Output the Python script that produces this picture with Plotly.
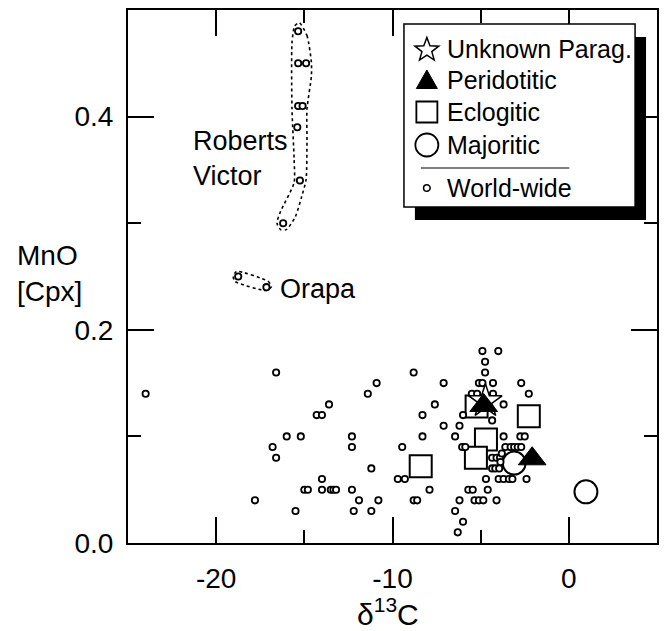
import math
import plotly.graph_objects as go

FONT = "Liberation Sans, Arial, sans-serif"

# ---- data (delta13C, MnO) ----
ww_x = [-24.0, -16.6, -10.9, -11.4, -13.6, -14.3, -14.0, -16.0, -15.2, -12.3,
        -16.8, -12.3, -16.6, -11.2, -14.0, -15.0, -14.8, -14.0, -13.5, -13.35,
        -13.2, -12.3, -17.8, -11.9, -10.8, -15.5, -12.2, -11.2,
        -4.9, -4.0, -4.75, -4.75, -8.8, -7.1, -5.1, -4.9, -4.3, -2.7,
        -5.5, -5.2, -4.3, -2.27, -7.6, -3.7, -8.3, -6.0, -4.35, -7.1, -6.2,
        -8.3, -6.45, -3.7, -2.75, -2.5,
        -9.45, -6.05, -5.87, -3.6, -3.3, -3.1, -2.9, -2.7,
        -4.35, -4.1, -3.9, -3.8, -4.35, -4.17, -3.95, -3.88,
        -9.7, -9.3, -4.7, -3.98, -3.7, -3.4, -3.2, -2.4,
        -7.9, -5.7, -5.45, -4.6,
        -8.8, -8.6, -6.2, -5.35, -5.1, -4.85, -4.1,
        -6.45, -6.0, -6.3]
ww_y = [0.14, 0.16, 0.15, 0.14, 0.13, 0.12, 0.12, 0.10, 0.10, 0.10,
        0.09, 0.09, 0.08, 0.07, 0.06, 0.05, 0.05, 0.05, 0.05, 0.05,
        0.05, 0.05, 0.04, 0.04, 0.04, 0.03, 0.03, 0.03,
        0.18, 0.18, 0.17, 0.16, 0.16, 0.15, 0.15, 0.15, 0.15, 0.15,
        0.14, 0.14, 0.14, 0.14, 0.13, 0.13, 0.12, 0.12, 0.115, 0.11, 0.11,
        0.10, 0.10, 0.10, 0.10, 0.10,
        0.09, 0.09, 0.09, 0.09, 0.09, 0.09, 0.09, 0.09,
        0.08, 0.08, 0.08, 0.084, 0.07, 0.07, 0.07, 0.076,
        0.06, 0.06, 0.06, 0.06, 0.06, 0.06, 0.06, 0.06,
        0.05, 0.05, 0.05, 0.05,
        0.04, 0.04, 0.04, 0.04, 0.04, 0.04, 0.04,
        0.03, 0.02, 0.01]

rv_x = [-15.35, -15.35, -14.9, -15.35, -15.1, -15.4, -15.25, -16.2]
rv_y = [0.48, 0.45, 0.45, 0.41, 0.41, 0.39, 0.34, 0.30]
orapa_x = [-18.75, -17.15]
orapa_y = [0.25, 0.24]

eclog_x = [-8.4, -2.27, -4.7, -5.27, -5.23]
eclog_y = [0.072, 0.119, 0.097, 0.080, 0.128]
perid_x = [-4.83, -2.08]
perid_y = [0.129, 0.079]
unk_x = [-4.73]
unk_y = [0.133]
major_x = [-3.1, 0.97]
major_y = [0.075, 0.048]

legend_labels = ["Unknown Parag.", "Peridotitic", "Eclogitic", "Majoritic", "World-wide"]

# hand-drawn dotted enclosures (annotation outlines)
rv_outline_x = [-15.28, -14.85, -14.6, -14.6, -14.85, -14.85, -14.9, -15.15, -15.51,
                -16.02, -16.35, -16.55, -16.35, -15.58, -15.58, -15.7, -15.7, -15.55, -15.28]
rv_outline_y = [0.488, 0.476, 0.451, 0.438, 0.407, 0.376, 0.341, 0.325, 0.306,
                0.294, 0.294, 0.300, 0.311, 0.338, 0.360, 0.407, 0.469, 0.485, 0.488]
or_outline_x = [-18.85, -17.05, -16.86, -17.14, -18.94, -19.03, -18.85]
or_outline_y = [0.2548, 0.2454, 0.2407, 0.2369, 0.2454, 0.2500, 0.2548]

# ---- layout geometry (pixels) ----
W, H = 664, 631
ML, MR, MT, MB = 128, 5, 10, 88
PW, PH = W - ML - MR, H - MT - MB


def px(xp):
    return (xp - ML) / PW


def py(yp):
    return (H - MB - yp) / PH


fig = go.Figure()

for ox, oy in [(rv_outline_x, rv_outline_y), (or_outline_x, or_outline_y)]:
    fig.add_trace(go.Scatter(x=ox, y=oy, mode="lines", showlegend=False, hoverinfo="skip",
                             line=dict(color="black", width=1.6, dash="dot", shape="spline", smoothing=0.6)))

fig.add_trace(go.Scatter(x=eclog_x, y=eclog_y, mode="markers", name="Eclogitic",
                         marker=dict(symbol="square", size=22, color="white",
                                     line=dict(color="black", width=2))))
fig.add_trace(go.Scatter(x=major_x, y=major_y, mode="markers", name="Majoritic",
                         marker=dict(symbol="circle", size=23, color="white",
                                     line=dict(color="black", width=2))))

ww_marker = dict(symbol="circle", size=6.3, color="white", line=dict(color="black", width=1.8))
fig.add_trace(go.Scatter(x=ww_x, y=ww_y, mode="markers", name="World-wide", marker=ww_marker))
fig.add_trace(go.Scatter(x=rv_x, y=rv_y, mode="markers", name="Roberts Victor", marker=ww_marker))
fig.add_trace(go.Scatter(x=orapa_x, y=orapa_y, mode="markers", name="Orapa", marker=ww_marker))

fig.add_trace(go.Scatter(x=unk_x, y=unk_y, mode="markers", name="Unknown Parag.",
                         marker=dict(symbol="star", size=25, color="white",
                                     line=dict(color="black", width=1.5))))
fig.add_trace(go.Scatter(x=perid_x, y=perid_y, mode="markers", name="Peridotitic",
                         marker=dict(symbol="triangle-up", size=24, color="black",
                                     line=dict(color="black", width=1))))

axis_common = dict(showline=True, linecolor="black", linewidth=2, mirror="allticks",
                   ticks="inside", ticklen=26, tickwidth=1.5, tickcolor="black",
                   showgrid=False, zeroline=False,
                   tickfont=dict(family=FONT, size=28, color="black"))

fig.update_xaxes(range=[-25, 5], tickvals=[-20, -10, 0], ticktext=["-20", "-10", "0"],
                 minor=dict(dtick=5, tick0=0, ticks="inside", ticklen=13, tickwidth=1.5,
                            tickcolor="black", showgrid=False),
                 ticklabelstandoff=9, **axis_common)
fig.update_yaxes(range=[0, 0.5], tickvals=[0, 0.2, 0.4], ticktext=["0.0", "0.2", "0.4"],
                 minor=dict(dtick=0.1, tick0=0, ticks="inside", ticklen=13, tickwidth=1.5,
                            tickcolor="black", showgrid=False),
                 ticklabelstandoff=7, **axis_common)

# ---- custom legend box with drop shadow ----
box_l, box_r, box_t, box_b = 405, 637, 24, 207
shadow_dx, shadow_dy = 11, 13
fig.add_shape(type="rect", xref="paper", yref="paper",
              x0=px(box_l + shadow_dx), x1=px(box_r + shadow_dx),
              y0=py(box_b + shadow_dy), y1=py(box_t + shadow_dy),
              fillcolor="black", line=dict(width=0), layer="above")
fig.add_shape(type="rect", xref="paper", yref="paper",
              x0=px(box_l), x1=px(box_r), y0=py(box_b), y1=py(box_t),
              fillcolor="white", line=dict(color="black", width=1.5), layer="above")
fig.add_shape(type="line", xref="paper", yref="paper", x0=px(422), x1=px(571),
              y0=py(168), y1=py(168), line=dict(color="black", width=1.2), layer="above")

key_x = 428
row_y = [49, 80, 112, 145, 188]
text_x = 446


def pixel_shape(path, cx, cy, fill, lw):
    return dict(type="path", xref="paper", yref="paper", xsizemode="pixel", ysizemode="pixel",
                xanchor=px(cx), yanchor=py(cy), path=path, fillcolor=fill,
                line=dict(color="black", width=lw), layer="above")


# star key
pts = []
for i in range(10):
    r = 12.5 if i % 2 == 0 else 5.2
    a = math.pi / 2 + i * math.pi / 5
    pts.append((r * math.cos(a), r * math.sin(a)))
star_path = "M" + " L".join(f"{x:.2f},{y:.2f}" for x, y in pts) + " Z"
fig.add_shape(pixel_shape(star_path, key_x, row_y[0] + 1, "white", 1.5))
# triangle key
fig.add_shape(pixel_shape("M0,10 L10.5,-8.5 L-10.5,-8.5 Z", key_x, row_y[1], "black", 1))
# square key
fig.add_shape(pixel_shape("M-10.5,-10.5 L10.5,-10.5 L10.5,10.5 L-10.5,10.5 Z", key_x, row_y[2], "white", 1.8))
# circle key (majoritic)
fig.add_shape(dict(type="circle", xref="paper", yref="paper", xsizemode="pixel", ysizemode="pixel",
                   xanchor=px(key_x), yanchor=py(row_y[3]), x0=-11.5, x1=11.5, y0=-11.5, y1=11.5,
                   fillcolor="white", line=dict(color="black", width=1.8), layer="above"))
# small circle key (world-wide)
fig.add_shape(dict(type="circle", xref="paper", yref="paper", xsizemode="pixel", ysizemode="pixel",
                   xanchor=px(key_x), yanchor=py(row_y[4]), x0=-3.3, x1=3.3, y0=-3.3, y1=3.3,
                   fillcolor="white", line=dict(color="black", width=1.5), layer="above"))

annotations = []
for lab, yy in zip(legend_labels, row_y):
    annotations.append(dict(x=px(text_x), y=py(yy), xref="paper", yref="paper", text=lab,
                            showarrow=False, xanchor="left", yanchor="middle",
                            font=dict(family=FONT, size=25, color="black")))

annotations += [
    dict(x=-21.44, y=0.3606, xref="x", yref="y", text="Roberts<br>Victor", showarrow=False,
         xanchor="left", yanchor="middle", align="left", font=dict(family=FONT, size=27)),
    dict(x=-16.48, y=0.238, xref="x", yref="y", text="Orapa", showarrow=False,
         xanchor="left", yanchor="middle", font=dict(family=FONT, size=27)),
    dict(x=px(15), y=py(273), xref="paper", yref="paper", text="MnO<br>[Cpx]", showarrow=False,
         xanchor="left", yanchor="middle", align="left", font=dict(family=FONT, size=28)),
    dict(x=px(389), y=py(612), xref="paper", yref="paper", text="δ<sup>13</sup>C", showarrow=False,
         xanchor="center", yanchor="middle", font=dict(family=FONT, size=30)),
]

fig.update_layout(
    width=W, height=H,
    margin=dict(l=ML, r=MR, t=MT, b=MB),
    paper_bgcolor="white", plot_bgcolor="white",
    font=dict(family=FONT, color="black"),
    showlegend=False,
    annotations=annotations,
)

fig.write_html("out.html")
